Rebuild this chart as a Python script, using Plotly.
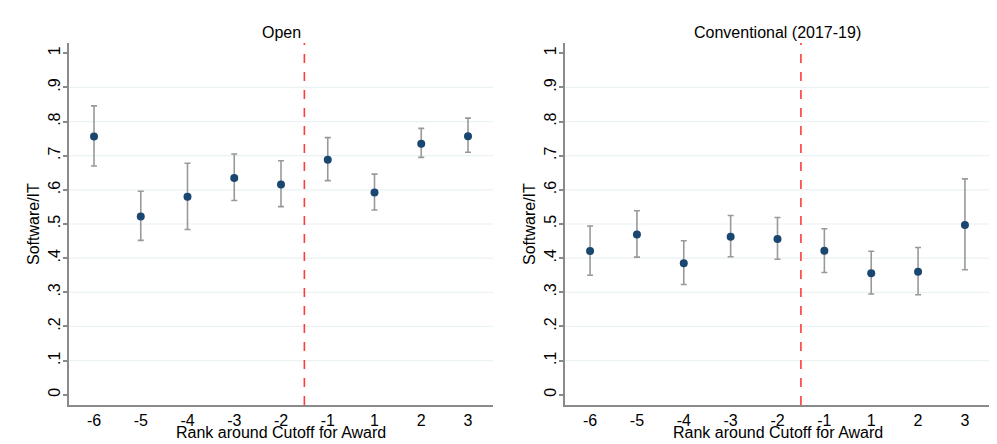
import plotly.graph_objects as go
import numpy as np

rank_labels = ["-6", "-5", "-4", "-3", "-2", "-1", "1", "2", "3"]
positions = list(range(1, 10))
cutoff_pos = 5.5

open_mean = [0.756, 0.522, 0.580, 0.635, 0.616, 0.688, 0.592, 0.735, 0.757]
open_lo = [0.670, 0.452, 0.484, 0.569, 0.551, 0.627, 0.541, 0.695, 0.710]
open_hi = [0.846, 0.596, 0.678, 0.705, 0.685, 0.753, 0.646, 0.780, 0.810]

conv_mean = [0.421, 0.469, 0.385, 0.463, 0.456, 0.422, 0.356, 0.360, 0.497]
conv_lo = [0.350, 0.403, 0.323, 0.404, 0.397, 0.358, 0.295, 0.293, 0.366]
conv_hi = [0.494, 0.539, 0.451, 0.525, 0.519, 0.486, 0.420, 0.431, 0.632]

panel_titles = ["Open", "Conventional (2017-19)"]
x_title = "Rank around Cutoff for Award"
y_title = "Software/IT"
y_tickvals = [0, 0.1, 0.2, 0.3, 0.4, 0.5, 0.6, 0.7, 0.8, 0.9, 1.0]
y_ticktext = ["0", ".1", ".2", ".3", ".4", ".5", ".6", ".7", ".8", ".9", "1"]
grid_vals = [0.1, 0.2, 0.3, 0.4, 0.5, 0.6, 0.7, 0.8, 0.9]

FONT = "Liberation Sans, Arial, sans-serif"
FS = 16
NAVY = "#1a476f"
BAR = "#999999"
AXIS = "#8a8a8a"
GRID = "#eaf2f3"

# page body has an 8px margin, so the figure is sized to fit 997x444 window
W, H = 989, 436
ML, MR, MT, MB = 61, 7, 35, 39
pw = W - ML - MR

fig = go.Figure()
domains = [[0, (493 - 69) / pw], [(565 - 69) / pw, 1]]
series = [(open_mean, open_lo, open_hi), (conv_mean, conv_lo, conv_hi)]

for i, (m, lo, hi) in enumerate(series):
    m = np.array(m); lo = np.array(lo); hi = np.array(hi)
    xa = "x" if i == 0 else "x2"
    ya = "y" if i == 0 else "y2"
    fig.add_trace(go.Scatter(
        x=positions, y=m, mode="markers", xaxis=xa, yaxis=ya,
        marker=dict(color=NAVY, size=8),
        error_y=dict(type="data", symmetric=False, array=hi - m, arrayminus=m - lo,
                     color=BAR, thickness=1.6, width=3),
        showlegend=False, hoverinfo="skip"))

    axis_x = dict(domain=domains[i], range=[0.465, 9.535], tickvals=positions,
                  ticktext=rank_labels, showgrid=False, zeroline=False,
                  showline=True, linecolor=AXIS, linewidth=1.5, ticks="",
                  tickfont=dict(family=FONT, size=FS, color="black"),
                  anchor=ya)
    axis_y = dict(range=[-0.03, 1.03], tickvals=y_tickvals, ticktext=y_ticktext,
                  tickangle=-90, showgrid=False, zeroline=False,
                  showline=True, linecolor=AXIS, linewidth=1.5,
                  ticks="outside", ticklen=4, tickcolor=AXIS, tickwidth=1.5,
                  ticklabelstandoff=-3,
                  tickfont=dict(family=FONT, size=FS, color="black"),
                  anchor=xa)
    if i == 0:
        fig.update_layout(xaxis=axis_x, yaxis=axis_y)
    else:
        fig.update_layout(xaxis2=axis_x, yaxis2=axis_y)

    for g in grid_vals:
        fig.add_shape(type="line", xref=f"{xa} domain", yref=ya, x0=0, x1=1, y0=g, y1=g,
                      line=dict(color=GRID, width=1.2), layer="below")
    fig.add_shape(type="line", xref=xa, yref=f"{ya} domain", x0=cutoff_pos, x1=cutoff_pos,
                  y0=0, y1=1, line=dict(color="#ff3b3b", width=1.6, dash="dash"))
    cx = (domains[i][0] + domains[i][1]) / 2
    fig.add_annotation(text=panel_titles[i], xref="paper", yref="paper",
                       x=cx, y=1, xanchor="center", yanchor="middle", yshift=11,
                       showarrow=False, font=dict(family=FONT, size=FS, color="black"))
    fig.add_annotation(text=x_title, xref="paper", yref="paper",
                       x=cx, y=0, xanchor="center", yanchor="middle", yshift=-27,
                       showarrow=False, font=dict(family=FONT, size=FS, color="black"))
    fig.add_annotation(text=y_title, xref="paper", yref="paper", textangle=-90,
                       x=domains[i][0], y=0.5, xanchor="center", yanchor="middle",
                       xshift=-36, showarrow=False,
                       font=dict(family=FONT, size=FS, color="black"))

fig.update_layout(width=W, height=H, margin=dict(l=ML, r=MR, t=MT, b=MB),
                  paper_bgcolor="white", plot_bgcolor="white")

fig.write_html("out.html")
